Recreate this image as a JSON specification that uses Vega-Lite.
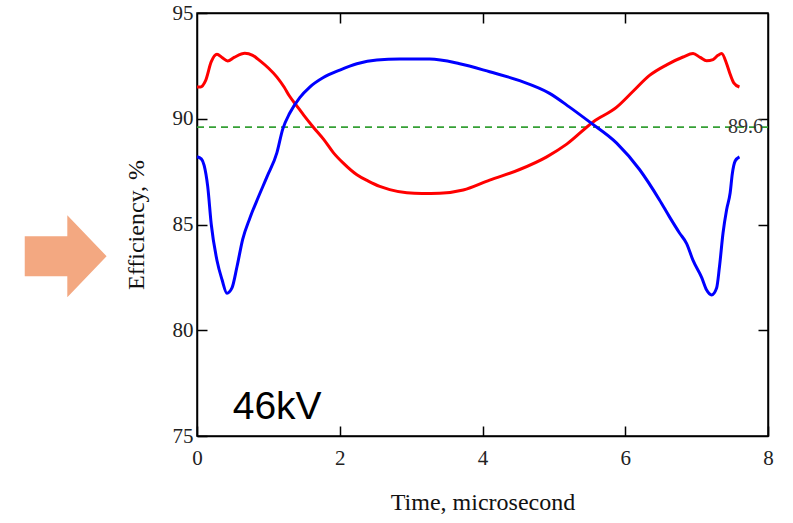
{
  "$schema": "https://vega.github.io/schema/vega-lite/v6.json",
  "width": 571,
  "height": 423,
  "autosize": {"type": "none"},
  "padding": {"left": 197, "top": 13, "right": 25, "bottom": 87},
  "background": "white",
  "config": {
    "view": {"stroke": "black", "strokeWidth": 1.5},
    "axis": {
      "grid": false,
      "domainColor": "black",
      "domainWidth": 1.5,
      "tickColor": "black",
      "tickWidth": 1.5,
      "tickSize": -10,
      "labelFont": "Liberation Serif",
      "labelFontSize": 21,
      "labelColor": "#222",
      "titleFont": "Liberation Serif",
      "titleFontSize": 24,
      "titleFontWeight": "normal",
      "titleColor": "#111"
    }
  },
  "datasets": {
    "curves": [
      {"t": 0.0, "eff": 91.5, "series": "red"},
      {"t": 0.05, "eff": 91.5, "series": "red"},
      {"t": 0.12, "eff": 91.8, "series": "red"},
      {"t": 0.2, "eff": 92.7, "series": "red"},
      {"t": 0.28, "eff": 93.05, "series": "red"},
      {"t": 0.35, "eff": 92.9, "series": "red"},
      {"t": 0.43, "eff": 92.73, "series": "red"},
      {"t": 0.52, "eff": 92.9, "series": "red"},
      {"t": 0.67, "eff": 93.1, "series": "red"},
      {"t": 0.78, "eff": 93.0, "series": "red"},
      {"t": 0.88, "eff": 92.75, "series": "red"},
      {"t": 1.0, "eff": 92.4, "series": "red"},
      {"t": 1.12, "eff": 91.97, "series": "red"},
      {"t": 1.22, "eff": 91.5, "series": "red"},
      {"t": 1.3, "eff": 91.05, "series": "red"},
      {"t": 1.4, "eff": 90.6, "series": "red"},
      {"t": 1.5, "eff": 90.15, "series": "red"},
      {"t": 1.63, "eff": 89.6, "series": "red"},
      {"t": 1.78, "eff": 89.0, "series": "red"},
      {"t": 1.91, "eff": 88.4, "series": "red"},
      {"t": 2.05, "eff": 87.9, "series": "red"},
      {"t": 2.24, "eff": 87.35, "series": "red"},
      {"t": 2.4, "eff": 87.05, "series": "red"},
      {"t": 2.56, "eff": 86.8, "series": "red"},
      {"t": 2.7, "eff": 86.65, "series": "red"},
      {"t": 2.94, "eff": 86.5, "series": "red"},
      {"t": 3.15, "eff": 86.47, "series": "red"},
      {"t": 3.4, "eff": 86.48, "series": "red"},
      {"t": 3.73, "eff": 86.63, "series": "red"},
      {"t": 4.1, "eff": 87.1, "series": "red"},
      {"t": 4.52, "eff": 87.6, "series": "red"},
      {"t": 4.9, "eff": 88.2, "series": "red"},
      {"t": 5.18, "eff": 88.8, "series": "red"},
      {"t": 5.55, "eff": 89.85, "series": "red"},
      {"t": 5.88, "eff": 90.55, "series": "red"},
      {"t": 6.11, "eff": 91.3, "series": "red"},
      {"t": 6.34, "eff": 92.05, "series": "red"},
      {"t": 6.58, "eff": 92.55, "series": "red"},
      {"t": 6.81, "eff": 92.92, "series": "red"},
      {"t": 6.95, "eff": 93.08, "series": "red"},
      {"t": 7.05, "eff": 92.9, "series": "red"},
      {"t": 7.14, "eff": 92.74, "series": "red"},
      {"t": 7.23, "eff": 92.8, "series": "red"},
      {"t": 7.3, "eff": 93.0, "series": "red"},
      {"t": 7.35, "eff": 93.08, "series": "red"},
      {"t": 7.42, "eff": 92.6, "series": "red"},
      {"t": 7.46, "eff": 92.2, "series": "red"},
      {"t": 7.52, "eff": 91.7, "series": "red"},
      {"t": 7.6, "eff": 91.5, "series": "red"},
      {"t": 0.0, "eff": 88.2, "series": "blue"},
      {"t": 0.06, "eff": 88.1, "series": "blue"},
      {"t": 0.1, "eff": 87.8, "series": "blue"},
      {"t": 0.15, "eff": 86.8, "series": "blue"},
      {"t": 0.2, "eff": 85.0, "series": "blue"},
      {"t": 0.28, "eff": 83.3, "series": "blue"},
      {"t": 0.35, "eff": 82.4, "series": "blue"},
      {"t": 0.42, "eff": 81.75, "series": "blue"},
      {"t": 0.49, "eff": 82.0, "series": "blue"},
      {"t": 0.56, "eff": 83.0, "series": "blue"},
      {"t": 0.64, "eff": 84.3, "series": "blue"},
      {"t": 0.74, "eff": 85.3, "series": "blue"},
      {"t": 0.86, "eff": 86.3, "series": "blue"},
      {"t": 0.98, "eff": 87.25, "series": "blue"},
      {"t": 1.12, "eff": 88.4, "series": "blue"},
      {"t": 1.2, "eff": 89.5, "series": "blue"},
      {"t": 1.3, "eff": 90.27, "series": "blue"},
      {"t": 1.44, "eff": 91.0, "series": "blue"},
      {"t": 1.58, "eff": 91.5, "series": "blue"},
      {"t": 1.77, "eff": 91.95, "series": "blue"},
      {"t": 2.0, "eff": 92.3, "series": "blue"},
      {"t": 2.24, "eff": 92.6, "series": "blue"},
      {"t": 2.52, "eff": 92.78, "series": "blue"},
      {"t": 2.84, "eff": 92.82, "series": "blue"},
      {"t": 3.26, "eff": 92.82, "series": "blue"},
      {"t": 3.68, "eff": 92.6, "series": "blue"},
      {"t": 4.1, "eff": 92.22, "series": "blue"},
      {"t": 4.52, "eff": 91.8, "series": "blue"},
      {"t": 4.94, "eff": 91.2, "series": "blue"},
      {"t": 5.22, "eff": 90.55, "series": "blue"},
      {"t": 5.5, "eff": 89.85, "series": "blue"},
      {"t": 5.88, "eff": 88.85, "series": "blue"},
      {"t": 6.2, "eff": 87.6, "series": "blue"},
      {"t": 6.48, "eff": 86.16, "series": "blue"},
      {"t": 6.62, "eff": 85.36, "series": "blue"},
      {"t": 6.76, "eff": 84.6, "series": "blue"},
      {"t": 6.86, "eff": 84.1, "series": "blue"},
      {"t": 6.95, "eff": 83.3, "series": "blue"},
      {"t": 7.07, "eff": 82.5, "series": "blue"},
      {"t": 7.14, "eff": 81.9, "series": "blue"},
      {"t": 7.21, "eff": 81.67, "series": "blue"},
      {"t": 7.28, "eff": 82.0, "series": "blue"},
      {"t": 7.32, "eff": 83.0, "series": "blue"},
      {"t": 7.37, "eff": 84.6, "series": "blue"},
      {"t": 7.42, "eff": 85.7, "series": "blue"},
      {"t": 7.47, "eff": 86.5, "series": "blue"},
      {"t": 7.5, "eff": 87.4, "series": "blue"},
      {"t": 7.54, "eff": 88.0, "series": "blue"},
      {"t": 7.6, "eff": 88.2, "series": "blue"}
    ],
    "level": [{"eff": 89.6, "t": 8, "label": "89.6"}],
    "note": [{"t": 0.5, "eff": 75.8, "label": "46kV"}],
    "arrow": [{"t": -1.84, "eff": 83.5}]
  },
  "resolve": {"axis": {"x": "independent", "y": "independent"}},
  "layer": [
    {
      "data": {"name": "level"},
      "mark": {"type": "rule", "color": "#35a035", "strokeWidth": 1.8, "strokeDash": [7, 5]},
      "encoding": {
        "y": {"field": "eff", "type": "quantitative", "scale": {"domain": [75, 95], "nice": false}, "axis": null}
      }
    },
    {
      "data": {"name": "curves"},
      "mark": {"type": "line", "strokeWidth": 3, "interpolate": "monotone"},
      "encoding": {
        "x": {
          "field": "t", "type": "quantitative",
          "scale": {"domain": [0, 8], "nice": false},
          "axis": {"title": "Time, microsecond", "values": [0, 2, 4, 6, 8], "labelPadding": 21, "titlePadding": 22, "labelFlush": false}
        },
        "y": {
          "field": "eff", "type": "quantitative",
          "scale": {"domain": [75, 95], "nice": false},
          "axis": {"title": "Efficiency, %", "values": [75, 80, 85, 90, 95], "labelPadding": 14, "titlePadding": 24, "labelFlush": false}
        },
        "color": {"field": "series", "type": "nominal", "scale": {"domain": ["red", "blue"], "range": ["#ff0000", "#0000ff"]}, "legend": null},
        "detail": {"field": "series"}
      }
    },
    {
      "data": {"name": "level"},
      "mark": {"type": "text", "font": "Liberation Serif", "fontSize": 20, "align": "right", "baseline": "middle", "dx": -5, "color": "#333"},
      "encoding": {
        "x": {"field": "t", "type": "quantitative", "axis": null},
        "y": {"field": "eff", "type": "quantitative", "axis": null},
        "text": {"field": "label"}
      }
    },
    {
      "data": {"name": "note"},
      "mark": {"type": "text", "font": "Liberation Sans", "fontSize": 39, "align": "left", "baseline": "alphabetic", "color": "black"},
      "encoding": {
        "x": {"field": "t", "type": "quantitative", "axis": {"orient": "top", "labels": false, "title": null, "values": [2, 4, 6]}},
        "y": {"field": "eff", "type": "quantitative", "axis": {"orient": "right", "labels": false, "title": null, "values": [80, 85, 90]}},
        "text": {"field": "label"}
      }
    },
    {
      "data": {"name": "arrow"},
      "mark": {"type": "point", "filled": true, "opacity": 1, "color": "#f3a881", "strokeWidth": 0, "size": 6700,
               "shape": "M-1,-0.49L0.04,-0.49L0.04,-1L1,0L0.04,1L0.04,0.49L-1,0.49Z"},
      "encoding": {
        "x": {"field": "t", "type": "quantitative", "axis": null},
        "y": {"field": "eff", "type": "quantitative", "axis": null}
      }
    }
  ]
}
